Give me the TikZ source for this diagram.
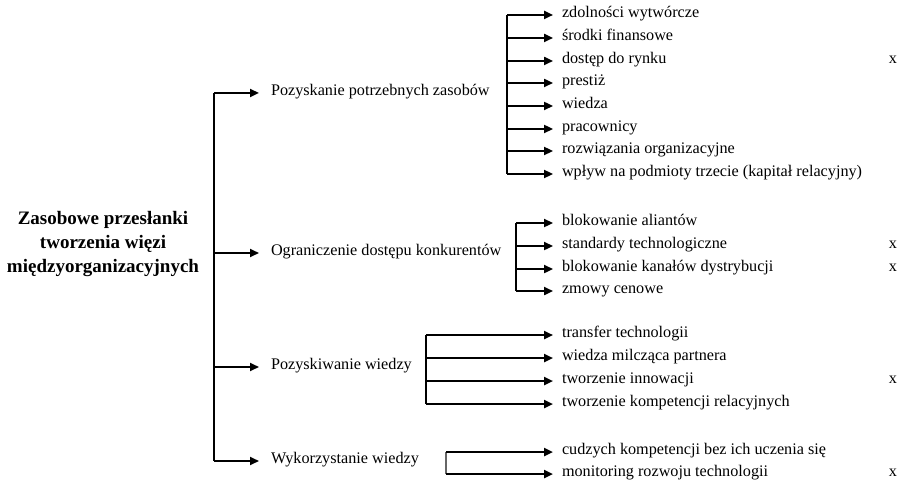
\documentclass[tikz,border=0pt]{standalone}
\usepackage{fontspec}
\setmainfont{Liberation Serif}
\usetikzlibrary{arrows.meta}
\begin{document}
\begin{tikzpicture}[x=1pt,y=-1pt,
  font=\fontsize{16.2}{18}\selectfont,
  item/.style={anchor=west,inner xsep=9pt,inner ysep=0pt,outer sep=0pt,text height=1.5ex,text depth=.25ex},
  cat/.style={item,inner xsep=12pt},
  xmark/.style={anchor=center,inner sep=0pt,text height=1.5ex,text depth=.25ex},
  trunk/.style={line width=1.2pt},
  branch/.style={line width=2.8pt,-{Triangle[length=9pt,width=8pt]}},
  twig/.style={line width=1.8pt,-{Triangle[length=9pt,width=8pt]}},
]
\useasboundingbox (0,0) rectangle (901,481);

% root label
\node[font=\fontsize{19}{24}\selectfont\bfseries,align=center] (root) at (103,244)
  {Zasobowe przesłanki\\ tworzenia więzi\\ międzyorganizacyjnych};

% main trunk and first-level categories
\coordinate (t0) at (214,93);
\coordinate (t3) at (214,461);
\draw[trunk] (t0) -- (t3);
\node[cat] (c1) at (259,93)  {Pozyskanie potrzebnych zasobów};
\node[cat] (c2) at (259,253) {Ograniczenie dostępu konkurentów};
\node[cat] (c3) at (259,367) {Pozyskiwanie wiedzy};
\node[cat] (c4) at (259,461) {Wykorzystanie wiedzy};
\draw[branch] (t0) -- (c1.west);
\foreach \c in {c2,c3,c4} \draw[twig] (t0 |- \c.west) -- (\c.west);

% group 1: resources
\foreach \n/\y/\t in {
  a1/15/{zdolności wytwórcze},
  a2/38/{środki finansowe},
  a3/61/{dostęp do rynku},
  a4/83/{prestiż},
  a5/106/{wiedza},
  a6/129/{pracownicy},
  a7/151/{rozwiązania organizacyjne},
  a8/174/{wpływ na podmioty trzecie (kapitał relacyjny)}}
  \node[item] (\n) at (553,\y) {\t};
\coordinate (g1) at (507,0);
\draw[trunk] (g1 |- a1.west) -- (g1 |- a8.west);
\foreach \n in {a1,a2,a3,a4,a5,a6,a7,a8} \draw[branch] (g1 |- \n.west) -- (\n.west);

% group 2: limiting competitors
\foreach \n/\y/\t in {
  b1/223/{blokowanie aliantów},
  b2/246/{standardy technologiczne},
  b3/269/{blokowanie kanałów dystrybucji},
  b4/291/{zmowy cenowe}}
  \node[item] (\n) at (553,\y) {\t};
\coordinate (g2) at (516,0);
\draw[trunk] (g2 |- b1.west) -- (g2 |- b4.west);
\foreach \n in {b1,b2,b3,b4} \draw[branch,line width=2.5pt] (g2 |- \n.west) -- (\n.west);

% group 3: acquiring knowledge
\foreach \n/\y/\t in {
  k1/335/{transfer technologii},
  k2/358/{wiedza milcząca partnera},
  k3/381/{tworzenie innowacji},
  k4/404/{tworzenie kompetencji relacyjnych}}
  \node[item] (\n) at (553,\y) {\t};
\coordinate (g3) at (426,0);
\draw[trunk] (g3 |- k1.west) -- (g3 |- k4.west);
\foreach \n in {k1,k2,k3,k4} \draw[branch] (g3 |- \n.west) -- (\n.west);

% group 4: using knowledge
\foreach \n/\y/\t in {
  u1/452/{cudzych kompetencji bez ich uczenia się},
  u2/474/{monitoring rozwoju technologii}}
  \node[item] (\n) at (553,\y) {\t};
\coordinate (g4) at (446,0);
\draw[trunk,black!60] (g4 |- u1.west) -- (g4 |- u2.west);
\foreach \n in {u1,u2} \draw[branch,line width=2.5pt] (g4 |- \n.west) -- (\n.west);

% marks in the right-hand column
\coordinate (xc) at (893,0);
\foreach \n in {a3,b2,b3,k3,u2} \node[xmark] (x\n) at (xc |- \n.west) {x};
\end{tikzpicture}
\end{document}
